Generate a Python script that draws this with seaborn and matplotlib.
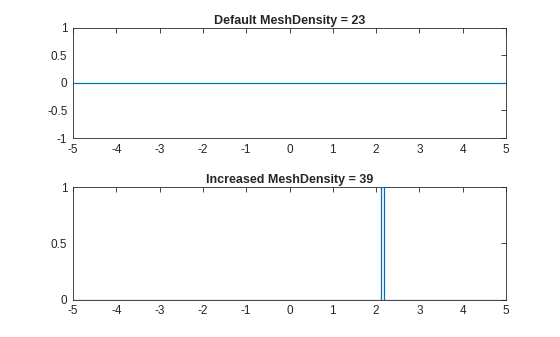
import matplotlib
matplotlib.use("Agg")
import matplotlib.pyplot as plt
import seaborn as sns
import pandas as pd

sns.set_style("white")
plt.rcParams['font.family'] = ['Liberation Sans', 'DejaVu Sans']

# Data
x_default = [-5.0, 5.0]
y_default = [0.0, 0.0]
x_increased = [-5.0, 2.12, 2.12, 2.185, 2.185, 5.0]
y_increased = [0.0, 0.0, 1.0, 1.0, 0.0, 0.0]
xticks = [-5, -4, -3, -2, -1, 0, 1, 2, 3, 4, 5]
titles = ["Default MeshDensity = 23", "Increased MeshDensity = 39"]

fig = plt.figure(figsize=(5.6, 3.37), dpi=100)
ax1 = fig.add_axes([0.1304, 0.5905, 0.7732, 0.3265])
ax2 = fig.add_axes([0.1304, 0.110, 0.7732, 0.335])

color = "#0072BD"
df1 = pd.DataFrame({"x": x_default, "y": y_default})
df2 = pd.DataFrame({"x": x_increased, "y": y_increased})
sns.lineplot(data=df1, x="x", y="y", ax=ax1, color=color, linewidth=0.9, sort=False, estimator=None)
sns.lineplot(data=df2, x="x", y="y", ax=ax2, color=color, linewidth=0.9, sort=False, estimator=None)

ax1.set_ylim(-1, 1)
ax1.set_yticks([-1, -0.5, 0, 0.5, 1])
ax1.set_yticklabels(["-1", "-0.5", "0", "0.5", "1"])
ax2.set_ylim(0, 1)
ax2.set_yticks([0, 0.5, 1])
ax2.set_yticklabels(["0", "0.5", "1"])

for ax, t in zip([ax1, ax2], titles):
    ax.set_xlim(-5, 5)
    ax.set_xticks(xticks)
    ax.set_xticklabels([str(v) for v in xticks])
    ax.set_xlabel("")
    ax.set_ylabel("")
    ax.set_title(t, fontsize=9, fontweight="bold", pad=3)
    ax.tick_params(direction="in", length=3.5, width=0.6, top=True, right=True,
                   labelsize=8.5, colors="#262626", labelcolor="#262626", pad=4)
    for s in ax.spines.values():
        s.set_visible(True)
        s.set_color("#262626")
        s.set_linewidth(0.6)
    for line in ax.lines:
        line.set_zorder(3)

fig.savefig("out.png", dpi=100, facecolor="white")
